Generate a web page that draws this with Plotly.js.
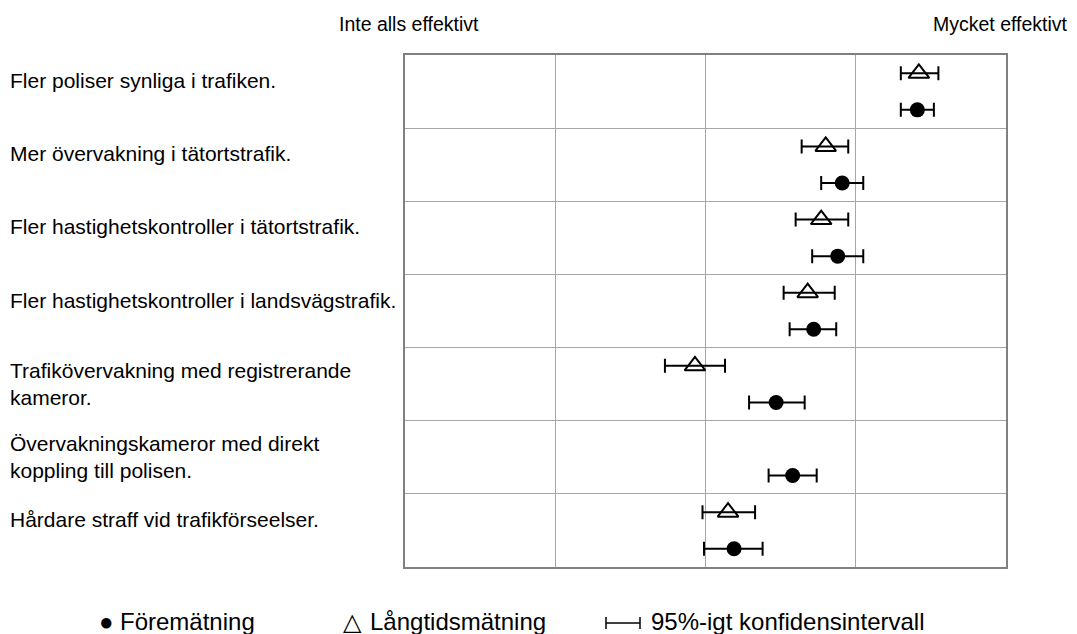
<!DOCTYPE html>
<html>
<head>
<meta charset="utf-8">
<script src="https://cdn.plot.ly/plotly-3.0.1.min.js"></script>
<style>html,body{margin:0;padding:0;background:#fff;}#chart{width:1077px;height:634px;}</style>
</head>
<body>
<div id="chart"></div>
<script>
const categories = [
  "Fler poliser synliga i trafiken.",
  "Mer övervakning i tätortstrafik.",
  "Fler hastighetskontroller i tätortstrafik.",
  "Fler hastighetskontroller i landsvägstrafik.",
  "Trafikövervakning med registrerande<br>kameror.",
  "Övervakningskameror med direkt<br>koppling till polisen.",
  "Hårdare straff vid trafikförseelser."
];
// Långtidsmätning (triangle)
const longMean = [4.42, 3.80, 3.77, 3.68, 2.93, null, 3.15];
const longLo   = [4.30, 3.64, 3.60, 3.52, 2.73, null, 2.98];
const longHi   = [4.55, 3.95, 3.95, 3.86, 3.13, null, 3.33];
// Föremätning (filled circle)
const preMean = [4.41, 3.91, 3.88, 3.72, 3.47, 3.58, 3.19];
const preLo   = [4.30, 3.77, 3.71, 3.56, 3.29, 3.42, 2.99];
const preHi   = [4.52, 4.05, 4.05, 3.87, 3.66, 3.74, 3.38];

const topLabels = ["Inte alls effektivt", "Mycket effektivt"];
const legendLabels = ["Föremätning", "Långtidsmätning", "95%-igt konfidensintervall"];

const FONT = "Liberation Sans, Arial, sans-serif";
const idx = categories.map((_, i) => i);
const yLong = idx.map(i => 2 * i);
const yPre = idx.map(i => 2 * i + 1);

const errStyle = {type: "data", symmetric: false, color: "#000", thickness: 2, width: 7};

const traces = [
  {
    x: longMean, y: yLong, type: "scatter", mode: "markers", name: legendLabels[1],
    marker: {symbol: "triangle-up-open", size: 18, color: "#000", line: {width: 2, color: "#000"}},
    error_x: Object.assign({}, errStyle, {
      array: longMean.map((v, i) => v == null ? null : longHi[i] - v),
      arrayminus: longMean.map((v, i) => v == null ? null : v - longLo[i])
    }),
    cliponaxis: false
  },
  {
    x: preMean, y: yPre, type: "scatter", mode: "markers", name: legendLabels[0],
    marker: {symbol: "circle", size: 15, color: "#000"},
    error_x: Object.assign({}, errStyle, {
      array: preMean.map((v, i) => preHi[i] - v),
      arrayminus: preMean.map((v, i) => v - preLo[i])
    }),
    cliponaxis: false
  }
];

const px = v => (v - 405) / 601;
const py = v => (567 - v) / 512;

const annotations = categories.map((c, i) => ({
  text: c, xref: "paper", yref: "y", x: px(8), y: c.includes("<br>") ? 2 * i + 0.5 : 2 * i + 0.2,
  xanchor: "left", yanchor: "middle", align: "left", showarrow: false,
  font: {family: FONT, size: 21, color: "#000"}
}));
const legFont = {family: FONT, size: 24, color: "#000"};
annotations.push(
  {text: topLabels[0], xref: "paper", yref: "paper", x: px(409), y: py(24), xanchor: "center", yanchor: "middle",
   showarrow: false, font: {family: FONT, size: 19.5, color: "#000"}},
  {text: topLabels[1], xref: "paper", yref: "paper", x: px(1000), y: py(24), xanchor: "center", yanchor: "middle",
   showarrow: false, font: {family: FONT, size: 19.5, color: "#000"}},
  {text: "●", xref: "paper", yref: "paper", x: px(106), y: py(621), xanchor: "center", yanchor: "middle",
   showarrow: false, font: legFont},
  {text: legendLabels[0], xref: "paper", yref: "paper", x: px(118), y: py(621), xanchor: "left", yanchor: "middle",
   showarrow: false, font: legFont},
  {text: "△", xref: "paper", yref: "paper", x: px(352), y: py(621), xanchor: "center", yanchor: "middle",
   showarrow: false, font: legFont},
  {text: legendLabels[1], xref: "paper", yref: "paper", x: px(368), y: py(621), xanchor: "left", yanchor: "middle",
   showarrow: false, font: legFont},
  {text: legendLabels[2], xref: "paper", yref: "paper", x: px(649), y: py(621), xanchor: "left", yanchor: "middle",
   showarrow: false, font: legFont}
);

const shapes = [
  {type: "line", xref: "paper", yref: "paper", x0: px(606), x1: px(640), y0: py(623), y1: py(623), line: {color: "#000", width: 1.5}},
  {type: "line", xref: "paper", yref: "paper", x0: px(606), x1: px(606), y0: py(617), y1: py(629), line: {color: "#000", width: 1.5}},
  {type: "line", xref: "paper", yref: "paper", x0: px(640), x1: px(640), y0: py(617), y1: py(629), line: {color: "#000", width: 1.5}}
];

const layout = {
  width: 1077, height: 634,
  margin: {l: 405, r: 71, t: 55, b: 67},
  paper_bgcolor: "#fff", plot_bgcolor: "#fff",
  showlegend: false,
  font: {family: FONT, color: "#000"},
  xaxis: {
    range: [1, 5], tickvals: [2, 3, 4], showticklabels: false, ticks: "",
    showgrid: true, gridcolor: "#a6a6a6", gridwidth: 1, zeroline: false,
    showline: true, mirror: true, linecolor: "#808080", linewidth: 2, fixedrange: true
  },
  yaxis: {
    range: [13.5, -0.5], tickvals: [1.5, 3.5, 5.5, 7.5, 9.5, 11.5], showticklabels: false, ticks: "",
    showgrid: true, gridcolor: "#a6a6a6", gridwidth: 1, zeroline: false,
    showline: true, mirror: true, linecolor: "#808080", linewidth: 2, fixedrange: true
  },
  annotations: annotations,
  shapes: shapes
};

Plotly.newPlot("chart", traces, layout, {staticPlot: true, displayModeBar: false});
</script>
</body>
</html>
